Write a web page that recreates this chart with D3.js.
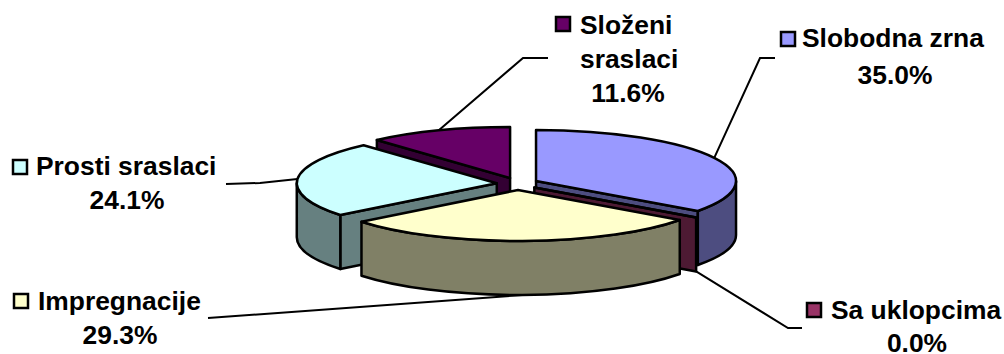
<!DOCTYPE html>
<html><head><meta charset="utf-8">
<script src="https://cdnjs.cloudflare.com/ajax/libs/d3/7.8.5/d3.min.js"></script>
<style>html,body{margin:0;padding:0;background:#fff}svg{display:block}
text{font-family:"Liberation Sans",Arial,sans-serif;font-weight:bold;font-size:26.4px;fill:#000}</style>
</head><body><div id="c"></div>
<script>
const categories = ["Slobodna zrna","Sa uklopcima","Impregnacije","Prosti sraslaci","Složeni sraslaci"];
const values = [35.0,0.0,29.3,24.1,11.6];
const topColors = ["#9999FF","#993366","#FFFFCC","#CCFFFF","#660066"];
const wallColors = ["#4D4D80","#4D1A33","#808066","#668080","#330033"];
// label layout: key position, name lines, percent position
const labelLayout = [
 {key:[781,32], lines:[{t:"Slobodna zrna",x:802,y:47}], pct:[895,84]},
 {key:[807,303], lines:[{t:"Sa uklopcima",x:831,y:319}], pct:[917,352]},
 {key:[14,294], lines:[{t:"Impregnacije",x:38,y:310}], pct:[120,344]},
 {key:[13,160], lines:[{t:"Prosti sraslaci",x:36,y:175}], pct:[127,209]},
 {key:[556,17], lines:[{t:"Složeni",x:580,y:34},{t:"sraslaci",x:580,y:68}], pct:[628,102]}
];
const leaderElbows = [[[760,58],[775,58]],[[788,328],[802,328]],[[208,318]],[[260,183],[226,184]],[[523,58],[548,58]]];

const W=1004,H=354, cx0=517.5, cy0=183.8, rx=200, ry=51, depth=54, explodeX=20.8, explodeY=6.2;
const svg=d3.select("#c").append("svg").attr("width",W).attr("height",H);
const arcs=d3.pie().sort(null).value(d=>d)(values);
const pt=(c,a,dy=0)=>[c[0]+rx*Math.sin(a), c[1]-ry*Math.cos(a)+dy];
const ell=(p,sweep=1)=>`A${rx},${ry} 0 0 ${sweep} ${p[0]},${p[1]}`;

arcs.forEach(d=>{
  const mid=(d.startAngle+d.endAngle)/2;
  d.mid=mid;
  d.c=[cx0+explodeX*Math.sin(mid), cy0-explodeY*Math.cos(mid)];
});
const order=[4,3,0,1,2];
const stroke={stroke:"#000","stroke-width":2.5,"stroke-linejoin":"round"};
function P(path,fill){const s=svg.append("path").attr("d",path).attr("fill",fill);
  Object.entries(stroke).forEach(([k,v])=>s.attr(k,v));}
const quad=(c,a)=>{const A=pt(c,a),B=pt(c,a,depth),C=[c[0],c[1]+depth];
  return `M${c}L${A}L${B}L${C}Z`;};
order.forEach(i=>{
  const d=arcs[i],c=d.c,a0=d.startAngle,a1=d.endAngle,wall=wallColors[i];
  if(Math.sin(a0)<0) P(quad(c,a0),wall);
  if(Math.sin(a1)>0) P(quad(c,a1),wall);
  const s=Math.max(a0,Math.PI/2),e=Math.min(a1,Math.PI*1.5);
  if(e>s){
    P(`M${pt(c,s)}${ell(pt(c,e))}L${pt(c,e,depth)}${ell(pt(c,s,depth),0)}Z`,wall);
  }
  P(`M${c}L${pt(c,a0)}${ell(pt(c,a1))}Z`,topColors[i]);
});
// leaders
const line=d3.line();
arcs.forEach((d,i)=>{
  const front=Math.cos(d.mid)<0;
  const start=pt(d.c,d.mid,front?depth:0);
  svg.append("path").attr("d",line([start,...leaderElbows[i]])).attr("fill","none").attr("stroke","#000").attr("stroke-width",2);
});
// labels
labelLayout.forEach((l,i)=>{
  svg.append("rect").attr("x",l.key[0]).attr("y",l.key[1]).attr("width",14).attr("height",14)
    .attr("fill",topColors[i]).attr("stroke","#000").attr("stroke-width",2.5);
  l.lines.forEach(t=>svg.append("text").attr("x",t.x).attr("y",t.y).text(t.t));
  svg.append("text").attr("x",l.pct[0]).attr("y",l.pct[1]).attr("text-anchor","middle").text(values[i].toFixed(1)+"%");
});
</script></body></html>
